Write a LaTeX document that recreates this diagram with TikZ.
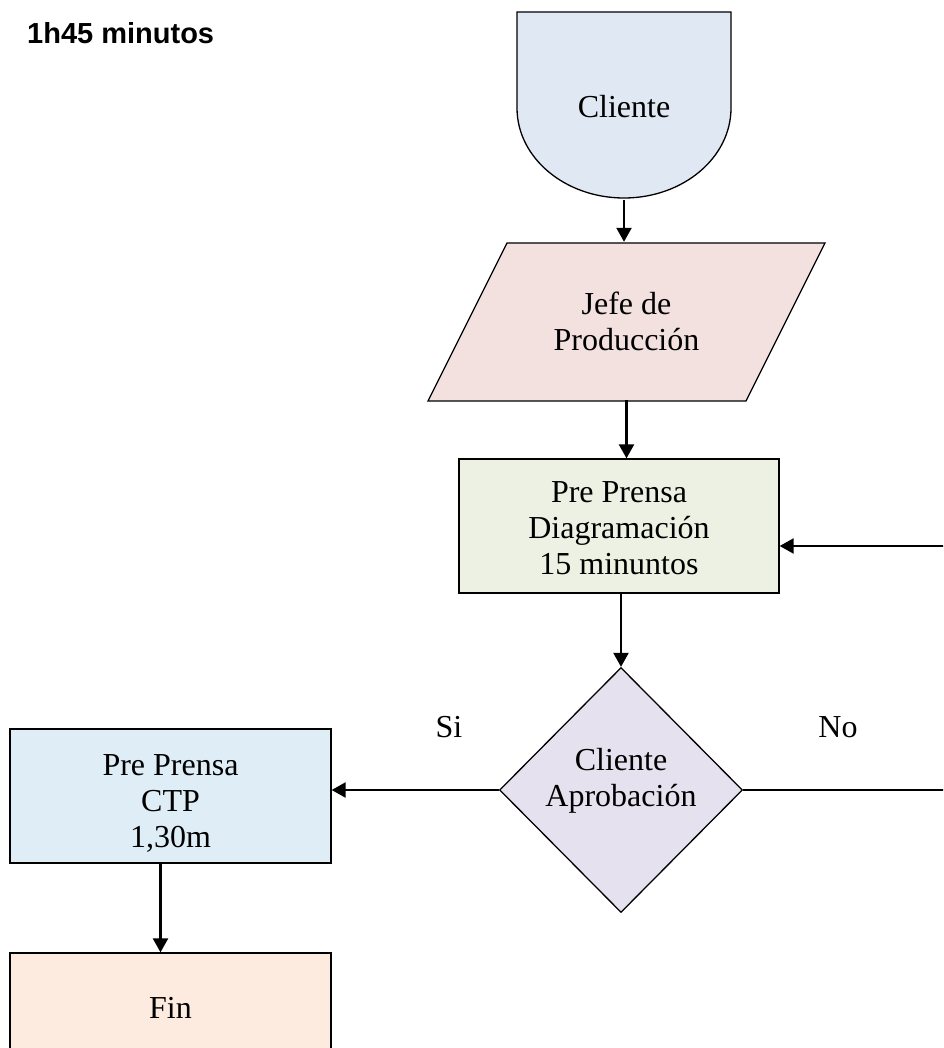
\documentclass[tikz,border=0pt]{standalone}
\usepackage{fontspec}
\setmainfont{Liberation Serif}
\newfontfamily\headsans{Liberation Sans}
\usetikzlibrary{arrows.meta,shapes.geometric}

\definecolor{clientefill}{HTML}{E0E8F3}
\definecolor{jefefill}{HTML}{F3E1E0}
\definecolor{diagfill}{HTML}{EDF1E3}
\definecolor{decfill}{HTML}{E6E1EE}
\definecolor{ctpfill}{HTML}{DFEDF6}
\definecolor{finfill}{HTML}{FCEBDE}

\begin{document}
\begin{tikzpicture}[x=1pt,y=-1pt,
  every node/.style={font=\fontsize{32}{36}\selectfont, align=center, inner sep=0pt},
  outline/.style={draw=black, line width=1.3pt},
  box/.style={outline, rectangle},
  conn/.style={line width=2.3pt, -{Triangle[length=14pt,width=15pt]}}]

\useasboundingbox (0,0) rectangle (943,1048);
\clip (0,0) rectangle (943,1048);
\fill[white] (0,0) rectangle (943,1048);

% heading
\node[anchor=base west, font=\headsans\bfseries\fontsize{29}{34}\selectfont] (title) at (27,44) {1h45 minutos};

% start shape: flat top, rounded bottom
\draw[outline, fill=clientefill] (517,12) -- (731,12) -- (731,108)
  arc[start angle=0, end angle=-180, x radius=107pt, y radius=90pt] -- cycle;
\node[minimum width=214pt, minimum height=186pt] (cliente) at (624,107) {Cliente};

% input parallelogram
\draw[outline, fill=jefefill] (507,243) -- (825,243) -- (746,401) -- (428,401) -- cycle;
\node[minimum width=200pt, minimum height=158pt] (jefe) at (626.5,321) {Jefe de\\Producción};

% process
\node[box, fill=diagfill, minimum width=320pt, minimum height=134pt] (diag) at (619,526) {};
\node (diagtext) at (619,528) {Pre Prensa\\Diagramación\\15 minuntos};

% decision
\node[diamond, outline, fill=decfill, minimum width=243pt, minimum height=245pt] (dec) at (621,790) {};
\node (dectext) at (621,781) {Cliente\\Aprobación};

\node (si) at (449,727) {Si};
\node (no) at (838,727) {No};

% approved branch
\node[box, fill=ctpfill, minimum width=321pt, minimum height=134pt] (ctp) at (170.5,796) {};
\node (ctptext) at (170.5,803) {Pre Prensa\\CTP\\1,30m};
\node[box, fill=finfill, minimum width=321pt, minimum height=110pt] (fin) at (170.5,1008) {Fin};

% connectors
\draw[conn] (cliente.south) -- (cliente.south |- jefe.north);
\draw[conn] (jefe.south) -- (jefe.south |- diag.north);
\draw[conn] (diag.south -| dec.north) -- (dec.north);
\draw[conn] (dec.west) -- (ctp.east |- dec.west);
\draw[conn] ([xshift=-10pt]ctp.south) -- ([xshift=-10pt]fin.north);
\coordinate (loop) at (965,546);
\draw[conn] (dec.east) -| (loop) -- (diag.east |- loop);
\end{tikzpicture}
\end{document}
